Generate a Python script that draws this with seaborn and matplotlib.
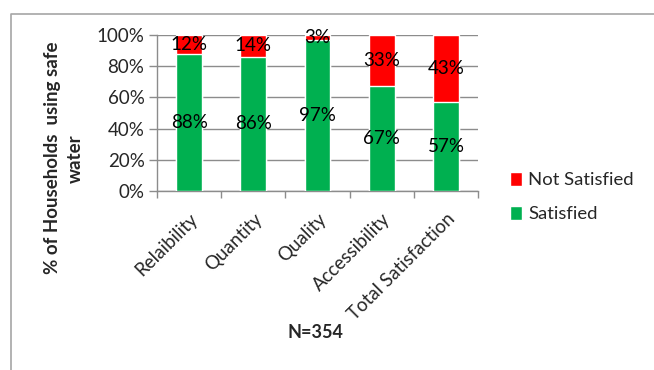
import matplotlib
matplotlib.use("Agg")
import matplotlib.pyplot as plt
from matplotlib.patches import Patch
import seaborn as sns
import pandas as pd

categories = ["Relaibility", "Quantity", "Quality", "Accessibility", "Total Satisfaction"]
satisfied = [88, 86, 97, 67, 57]
not_satisfied = [12, 14, 3, 33, 43]
y_ticks = [0, 20, 40, 60, 80, 100]

GREEN = "#00B050"
RED = "#FF0000"
GRID = "#8C8C8C"

sns.set_theme(style="white")
plt.rcParams["font.family"] = ["Lato", "DejaVu Sans"]

df = pd.DataFrame({
    "category": categories,
    "satisfied": satisfied,
    "not_satisfied": not_satisfied,
})
df["total"] = df["satisfied"] + df["not_satisfied"]

fig = plt.figure(figsize=(6.54, 3.70), dpi=100)
ax = fig.add_axes([157 / 654, 1 - 191 / 370, (478 - 157) / 654, (191 - 35) / 370])

# stacked bars: full height in red, satisfied share in green on top
sns.barplot(data=df, x="category", y="total", color=RED, width=0.4,
            saturation=1, ax=ax, zorder=3)
sns.barplot(data=df, x="category", y="satisfied", color=GREEN, width=0.4,
            saturation=1, ax=ax, zorder=3)

for i, (s, n) in enumerate(zip(satisfied, not_satisfied)):
    ax.text(i, s / 2, f"{s}%", ha="center", va="center", fontsize=13.5,
            color="black", zorder=4)
    ax.text(i, s + n / 2, f"{n}%", ha="center", va="center", fontsize=13.5,
            color="black", zorder=4)

ax.set_ylim(0, 100)
ax.set_xlim(-0.5, len(categories) - 0.5)
ax.set_yticks(y_ticks)
ax.set_yticklabels([f"{v}%" for v in y_ticks], fontsize=13.5)
ax.yaxis.grid(True, color=GRID, linewidth=1, zorder=0)
ax.set_axisbelow(True)

ax.set_xticks(range(len(categories)))
ax.set_xticklabels(categories, rotation=45, ha="right", rotation_mode="anchor",
                   fontsize=13.5)
ax.set_xticks([i - 0.5 for i in range(len(categories) + 1)], minor=True)
ax.tick_params(axis="x", which="major", length=0, pad=14)
ax.tick_params(axis="x", which="minor", length=5, color=GRID, width=1,
               direction="out", bottom=True)
ax.tick_params(axis="y", length=6, color=GRID, width=1, direction="out",
               left=True, pad=3)

for side in ["top", "right"]:
    ax.spines[side].set_visible(False)
for side in ["left", "bottom"]:
    ax.spines[side].set_color(GRID)
    ax.spines[side].set_linewidth(1)

ax.set_xlabel("")
ax.set_ylabel("% of Households  using safe\nwater", fontsize=13.5,
              fontweight="bold", linespacing=1.4)
ax.yaxis.set_label_coords(-0.228, 0.21)

handles = [Patch(facecolor=RED, label="Not Satisfied"),
           Patch(facecolor=GREEN, label="Satisfied")]
fig.legend(handles=handles, loc="upper left",
           bbox_to_anchor=(493 / 654, 1 - 155 / 370), frameon=False,
           fontsize=13.3, handlelength=0.65, handleheight=0.8,
           handletextpad=0.35, labelspacing=0.95)

fig.text(315 / 654, 1 - 332 / 370, "N=354", ha="center", va="center",
         fontsize=13, fontweight="bold")

# outer chart frame
fig.add_artist(plt.Line2D([10.5 / 654, 10.5 / 654, 1.0],
                          [0.0, 1 - 14 / 370, 1 - 14 / 370],
                          transform=fig.transFigure, color="#A6A6A6",
                          linewidth=1.2))

fig.savefig("out.png", dpi=100)
